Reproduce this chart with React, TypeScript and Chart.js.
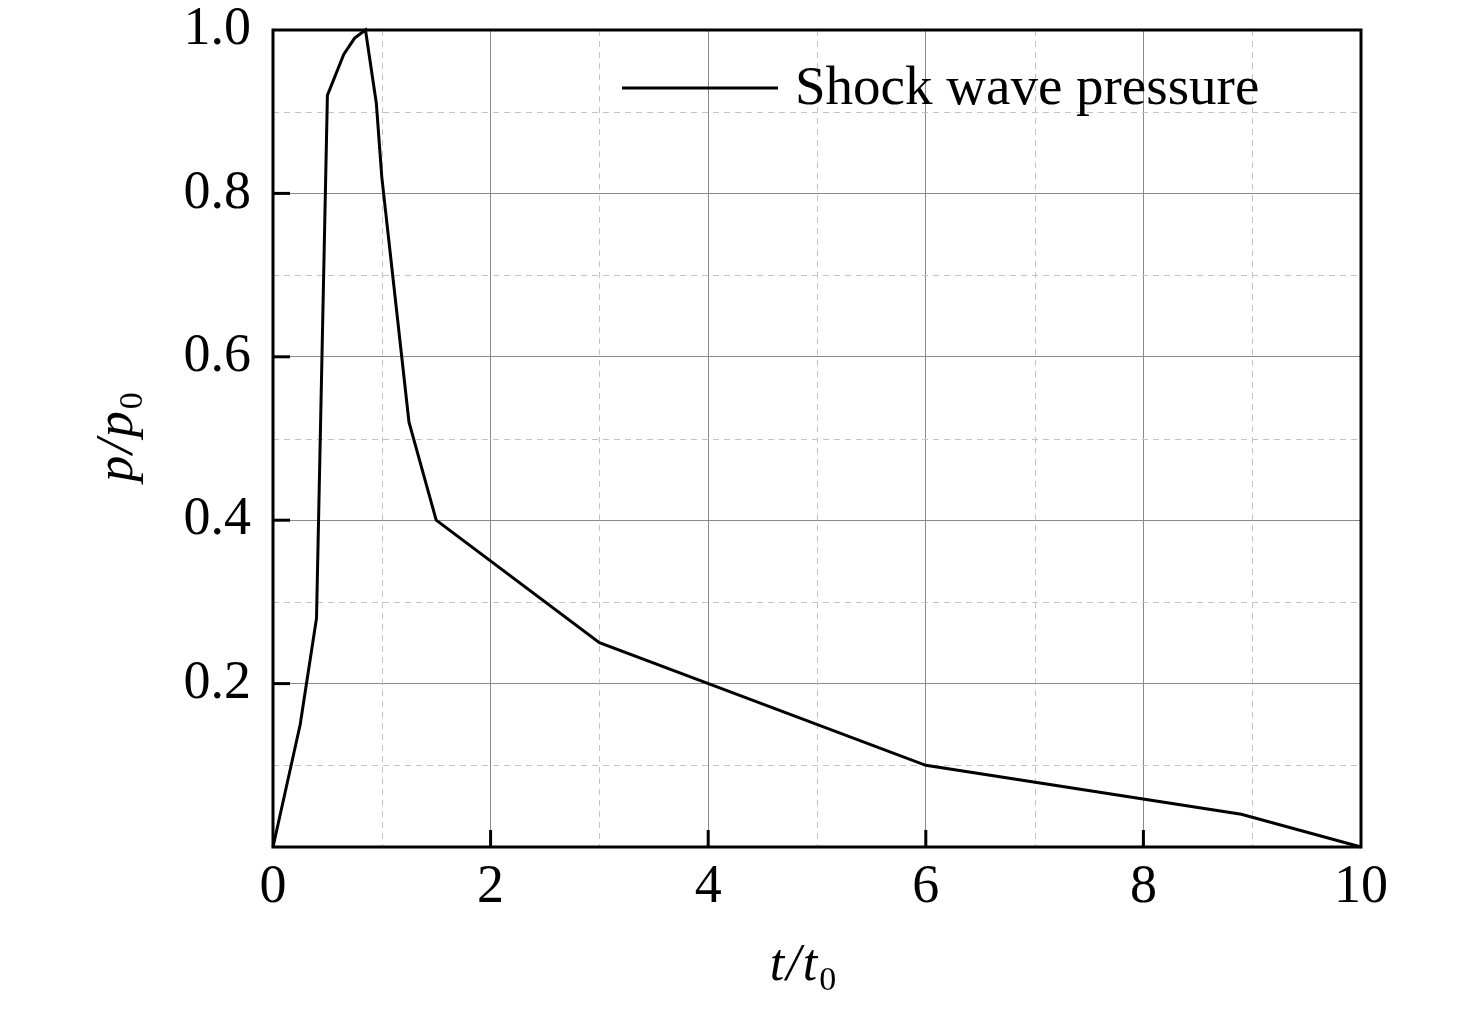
import { useEffect, useRef } from "react";
import { Chart, registerables } from "chart.js";
import type { Plugin } from "chart.js";

Chart.register(...registerables);

// values
const timeRatio = [0, 0.25, 0.4, 0.5, 0.65, 0.75, 0.85, 0.95, 1.0, 1.25, 1.5, 3, 6, 8.9, 10];
const pressureRatio = [0, 0.15, 0.28, 0.92, 0.97, 0.99, 1.0, 0.91, 0.82, 0.52, 0.4, 0.25, 0.1, 0.04, 0];
const xMinorTicks = [1, 3, 5, 7, 9];
const yMinorTicks = [0.1, 0.3, 0.5, 0.7, 0.9];
const xMajorTicks = [2, 4, 6, 8];
const yMajorTicks = [0.2, 0.4, 0.6, 0.8];
const seriesLabel = "Shock wave pressure";

const SERIF = "'Liberation Serif', 'Times New Roman', serif";

type Part = { text: string; italic?: boolean; sub?: boolean };

function drawParts(ctx: CanvasRenderingContext2D, parts: Part[], x: number, y: number) {
  // x,y = left end of baseline
  let cx = x;
  for (const p of parts) {
    const size = p.sub ? 34 : 52;
    ctx.font = `${p.italic ? "italic " : ""}${size}px ${SERIF}`;
    ctx.fillText(p.text, cx, p.sub ? y + 10 : y);
    cx += ctx.measureText(p.text).width + (p.italic ? 2 : 0);
  }
}

function partsWidth(ctx: CanvasRenderingContext2D, parts: Part[]) {
  let w = 0;
  for (const p of parts) {
    const size = p.sub ? 34 : 52;
    ctx.font = `${p.italic ? "italic " : ""}${size}px ${SERIF}`;
    w += ctx.measureText(p.text).width + (p.italic ? 2 : 0);
  }
  return w;
}

const decorPlugin: Plugin<"line"> = {
  id: "decor",
  beforeDatasetsDraw(chart) {
    const { ctx, chartArea: a, scales } = chart;
    const xs = scales.x;
    const ys = scales.y;
    ctx.save();
    ctx.strokeStyle = "#c4c4c4";
    ctx.lineWidth = 1;
    ctx.setLineDash([6, 5]);
    for (const v of xMinorTicks) {
      const px = Math.round(xs.getPixelForValue(v)) + 0.5;
      ctx.beginPath();
      ctx.moveTo(px, a.top);
      ctx.lineTo(px, a.bottom);
      ctx.stroke();
    }
    for (const v of yMinorTicks) {
      const py = Math.round(ys.getPixelForValue(v)) + 0.5;
      ctx.beginPath();
      ctx.moveTo(a.left, py);
      ctx.lineTo(a.right, py);
      ctx.stroke();
    }
    ctx.restore();
  },
  afterDraw(chart) {
    const { ctx, chartArea: a, scales } = chart;
    const xs = scales.x;
    const ys = scales.y;
    ctx.save();

    // frame
    ctx.strokeStyle = "#000";
    ctx.lineWidth = 3;
    ctx.setLineDash([]);
    ctx.strokeRect(a.left, a.top, a.right - a.left, a.bottom - a.top);

    // inward ticks
    for (const v of xMajorTicks) {
      const px = xs.getPixelForValue(v);
      ctx.beginPath();
      ctx.moveTo(px, a.bottom);
      ctx.lineTo(px, a.bottom - 17);
      ctx.stroke();
    }
    for (const v of yMajorTicks) {
      const py = ys.getPixelForValue(v);
      ctx.beginPath();
      ctx.moveTo(a.left, py);
      ctx.lineTo(a.left + 17, py);
      ctx.stroke();
    }

    // legend
    ctx.beginPath();
    ctx.moveTo(622, 88);
    ctx.lineTo(778, 88);
    ctx.stroke();
    ctx.fillStyle = "#000";
    ctx.font = `55px ${SERIF}`;
    ctx.textAlign = "left";
    ctx.textBaseline = "middle";
    ctx.fillText(seriesLabel, 795, 90);

    // axis titles
    ctx.textBaseline = "alphabetic";
    const xTitle: Part[] = [
      { text: "t", italic: true },
      { text: "/", italic: true },
      { text: "t", italic: true },
      { text: "0", sub: true },
    ];
    const xw = partsWidth(ctx, xTitle);
    drawParts(ctx, xTitle, 803 - xw / 2, 980);

    const yTitle: Part[] = [
      { text: "p", italic: true },
      { text: "/", italic: true },
      { text: "p", italic: true },
      { text: "0", sub: true },
    ];
    const yw = partsWidth(ctx, yTitle);
    ctx.translate(132, 437);
    ctx.rotate(-Math.PI / 2);
    drawParts(ctx, yTitle, -yw / 2, 0);

    ctx.restore();
  },
};

export default function App() {
  const canvasRef = useRef<HTMLCanvasElement | null>(null);

  useEffect(() => {
    document.body.style.margin = "0";
    if (!canvasRef.current) return;

    const points = timeRatio.map((t, i) => ({ x: t, y: pressureRatio[i] }));

    const chart = new Chart(canvasRef.current, {
      type: "line",
      data: {
        datasets: [
          {
            label: seriesLabel,
            data: points,
            borderColor: "#000",
            borderWidth: 3,
            pointRadius: 0,
            tension: 0,
            fill: false,
            clip: false as any,
          },
        ],
      },
      options: {
        animation: false,
        responsive: true,
        maintainAspectRatio: false,
        layout: { padding: { top: 30, right: 115, left: 0, bottom: 0 } },
        plugins: {
          legend: { display: false },
          tooltip: { enabled: false },
        },
        scales: {
          x: {
            type: "linear",
            min: 0,
            max: 10,
            afterFit: (s: any) => {
              s.height = 163;
              s.paddingLeft = 0;
              s.paddingRight = 0;
            },
            ticks: {
              stepSize: 2,
              color: "#000",
              padding: 8,
              font: { family: SERIF, size: 54 },
              callback: (v: any) => String(v),
            },
            grid: { color: "#8a8a8a", lineWidth: 1, drawTicks: false },
            border: { display: false },
          },
          y: {
            min: 0,
            max: 1,
            afterFit: (s: any) => {
              s.width = 273;
              s.paddingTop = 0;
              s.paddingBottom = 0;
            },
            ticks: {
              stepSize: 0.2,
              color: "#000",
              padding: 22,
              font: { family: SERIF, size: 54 },
              callback: (v: any) => (Number(v) === 0 ? "" : Number(v).toFixed(1)),
            },
            grid: { color: "#8a8a8a", lineWidth: 1, drawTicks: false },
            border: { display: false },
          },
        },
      },
      plugins: [decorPlugin],
    });

    return () => chart.destroy();
  }, []);

  return (
    <div style={{ width: 1476, height: 1010, position: "relative", background: "#fff" }}>
      <canvas ref={canvasRef} />
    </div>
  );
}
